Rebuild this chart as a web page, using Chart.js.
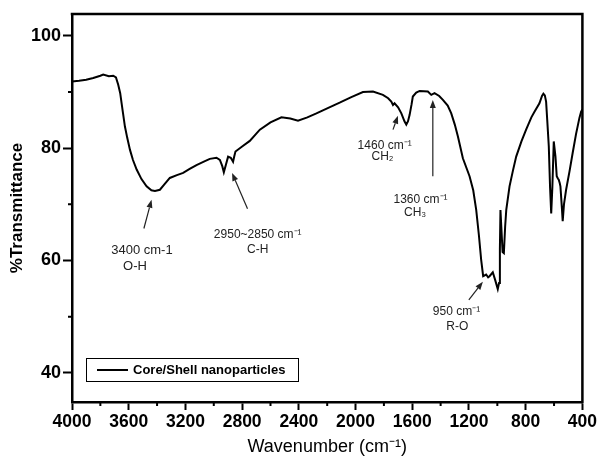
<!DOCTYPE html>
<html><head><meta charset="utf-8">
<script src="https://cdn.jsdelivr.net/npm/chart.js@4.4.1/dist/chart.umd.min.js"></script>
<style>html,body{margin:0;padding:0;background:#fff;}</style>
</head><body>
<canvas id="c" width="599" height="467"></canvas>
<script>
const wavenumbers = [4000,3950,3900,3850,3800,3780,3740,3709,3690,3674,3660,3650,3640,3627,3610,3591,3570,3544,3510,3474,3440,3415,3380,3350,3310,3260,3216,3170,3122,3070,3028,2981,2957,2940,2929,2915,2899,2880,2864,2855,2847,2800,2746,2700,2675,2600,2523,2460,2406,2340,2276,2200,2112,2030,1948,1877,1807,1770,1748,1736,1725,1700,1677,1655,1642,1630,1619,1605,1596,1572,1548,1490,1466,1443,1410,1384,1350,1325,1300,1278,1243,1196,1170,1149,1130,1114,1100,1079,1065,1055,1032,1015,997,988,982,978,972,963,954,945,937,914,890,867,830,797,760,738,703,685,675,665,656,648,637,628,620,612,602,590,581,573,567,560,555,545,539,530,515,490,469,445,421,409,400];
const transmittance = [91.9,92.0,92.2,92.5,92.9,93.1,92.8,92.9,92.6,91.3,89.8,88.0,86.2,83.9,81.8,79.7,77.9,76.2,74.5,73.2,72.5,72.4,72.6,73.5,74.7,75.2,75.6,76.3,77.0,77.6,78.1,78.3,77.9,76.8,75.7,77.0,78.5,78.3,77.6,78.6,79.4,80.3,81.3,82.6,83.3,84.6,85.5,85.3,84.9,85.5,86.2,87.1,88.1,89.1,90.0,90.1,89.5,88.9,88.3,87.7,88.0,87.3,86.2,84.8,84.2,84.8,85.9,87.8,89.2,89.9,90.2,90.1,89.5,89.8,89.3,88.6,87.6,86.2,84.2,82.1,78.2,75.0,72.5,69.0,64.5,60.1,57.2,57.5,57.0,57.2,57.9,56.5,54.9,56.0,62.0,69.0,66.0,61.5,61.3,66.0,69.0,73.2,76.0,78.5,81.2,83.3,85.5,86.5,88.0,89.3,89.7,89.4,88.3,85.0,80.3,73.0,68.4,73.0,81.2,78.5,75.0,74.6,74.4,73.8,73.2,69.5,67.0,70.0,72.6,76.0,79.1,82.5,85.4,86.5,86.9];
const xTickValues = [4000,3600,3200,2800,2400,2000,1600,1200,800,400];
const xMinorTicks = [3800,3400,3000,2600,2200,1800,1400,1000,600];
const yTickValues = [40,60,80,100];
const yMinorTicks = [50,70,90];
const seriesLabel = 'Core/Shell nanoparticles';
const noteLabels = [['3400 cm-1','O-H'],['2950~2850 cm\u207B\u00B9','C-H'],['1460 cm\u207B\u00B9','CH\u2082'],['1360 cm\u207B\u00B9','CH\u2083'],['950 cm\u207B\u00B9','R-O']];

// annotation placement (data coordinates), kept apart from the data
const noteLayout = [
  {size:13, lines:[[3507,61.8],[3556,58.9]], tail:[3493,65.7], head:[3439,70.8]},
  {size:12, lines:[[2690,64.6],[2690,61.9]], tail:[2762,69.2], head:[2871,75.6]},
  {size:12, lines:[[1795,80.5],[1810,78.5]], tail:[1736,83.3], head:[1701,85.8]},
  {size:12, lines:[[1542,70.8],[1580,68.5]], tail:[1455,75.0], head:[1455,88.6]},
  {size:12, lines:[[1288,50.9],[1283,48.3]], tail:[1201,53.0], head:[1102,56.2]}
];
const FONT = "'Liberation Sans', Arial, sans-serif";

const extras = {
  id: 'extras',
  afterDatasetsDraw(chart) {
    const {ctx, chartArea: a, scales: {x, y}} = chart;
    ctx.save();
    // top & right frame
    ctx.strokeStyle = '#000'; ctx.lineWidth = 2.5;
    ctx.beginPath();
    ctx.moveTo(a.left - 1.25, a.top); ctx.lineTo(a.right, a.top); ctx.lineTo(a.right, a.bottom + 1.25);
    ctx.stroke();
    // minor ticks
    ctx.lineWidth = 2;
    ctx.beginPath();
    xMinorTicks.forEach(v => { const px = x.getPixelForValue(v); ctx.moveTo(px, a.bottom); ctx.lineTo(px, a.bottom + 4); });
    yMinorTicks.forEach(v => { const py = y.getPixelForValue(v); ctx.moveTo(a.left, py); ctx.lineTo(a.left - 4, py); });
    ctx.stroke();
    // annotations
    ctx.fillStyle = '#222'; ctx.strokeStyle = '#222';
    ctx.textAlign = 'center'; ctx.textBaseline = 'middle';
    noteLayout.forEach((n, i) => {
      ctx.font = n.size + 'px ' + FONT;
      n.lines.forEach((p, j) => ctx.fillText(noteLabels[i][j], x.getPixelForValue(p[0]), y.getPixelForValue(p[1])));
      const tx = x.getPixelForValue(n.tail[0]), ty = y.getPixelForValue(n.tail[1]);
      const hx = x.getPixelForValue(n.head[0]), hy = y.getPixelForValue(n.head[1]);
      const ang = Math.atan2(hy - ty, hx - tx), L = 8, W = 3;
      ctx.lineWidth = 1.2;
      ctx.beginPath(); ctx.moveTo(tx, ty);
      ctx.lineTo(hx - L * Math.cos(ang), hy - L * Math.sin(ang)); ctx.stroke();
      ctx.beginPath(); ctx.moveTo(hx, hy);
      ctx.lineTo(hx - L * Math.cos(ang) + W * Math.sin(ang), hy - L * Math.sin(ang) - W * Math.cos(ang));
      ctx.lineTo(hx - L * Math.cos(ang) - W * Math.sin(ang), hy - L * Math.sin(ang) + W * Math.cos(ang));
      ctx.closePath(); ctx.fill();
    });
    // legend box
    const bx = a.left + 14, by = a.bottom - 44, bw = 212, bh = 23;
    ctx.strokeStyle = '#000'; ctx.lineWidth = 1;
    ctx.strokeRect(bx + 0.5, by + 0.5, bw, bh);
    ctx.lineWidth = 2;
    ctx.beginPath(); ctx.moveTo(bx + 11, by + bh / 2 + 0.5); ctx.lineTo(bx + 42, by + bh / 2 + 0.5); ctx.stroke();
    ctx.fillStyle = '#000'; ctx.textAlign = 'left';
    ctx.font = 'bold 13px ' + FONT;
    ctx.fillText(chart.data.datasets[0].label, bx + 47, by + bh / 2 + 1);
    ctx.restore();
  }
};

new Chart(document.getElementById('c'), {
  type: 'line',
  data: {
    datasets: [{
      label: seriesLabel,
      data: wavenumbers.map((w, i) => ({x: w, y: transmittance[i]})),
      borderColor: '#000', borderWidth: 2, pointRadius: 0, tension: 0, fill: false
    }]
  },
  options: {
    responsive: false, devicePixelRatio: 1, animation: false,
    layout: {padding: {top: 14, right: 16, left: 0, bottom: 0}},
    plugins: {legend: {display: false}, tooltip: {enabled: false}},
    scales: {
      x: {
        type: 'linear', reverse: true, min: 400, max: 4000,
        afterBuildTicks: s => { s.ticks = xTickValues.map(v => ({value: v})); },
        afterFit: s => { s.height = 65; },
        ticks: {color: '#000', font: {family: FONT, size: 17.5, weight: 'bold'}, maxRotation: 0, autoSkip: false, padding: 2, callback: v => String(v)},
        grid: {drawOnChartArea: false, drawTicks: true, tickLength: 8, tickWidth: 2, tickColor: '#000'},
        border: {display: true, color: '#000', width: 2.5},
        title: {display: true, text: 'Wavenumber (cm\u207B\u00B9)', color: '#000', font: {family: FONT, size: 18}, padding: {top: 0, bottom: 9}}
      },
      y: {
        min: 34.8, max: 103.9,
        afterBuildTicks: s => { s.ticks = yTickValues.map(v => ({value: v})); },
        afterFit: s => { s.width = 72; },
        ticks: {color: '#000', font: {family: FONT, size: 18, weight: 'bold'}, padding: 2, callback: v => String(v)},
        grid: {drawOnChartArea: false, drawTicks: true, tickLength: 9, tickWidth: 2, tickColor: '#000'},
        border: {display: true, color: '#000', width: 2.5},
        title: {display: true, text: '%Transmittance', color: '#000', font: {family: FONT, size: 17, weight: 'bold'}, padding: {top: 7, bottom: 0}}
      }
    }
  },
  plugins: [extras]
});
</script>
</body></html>
